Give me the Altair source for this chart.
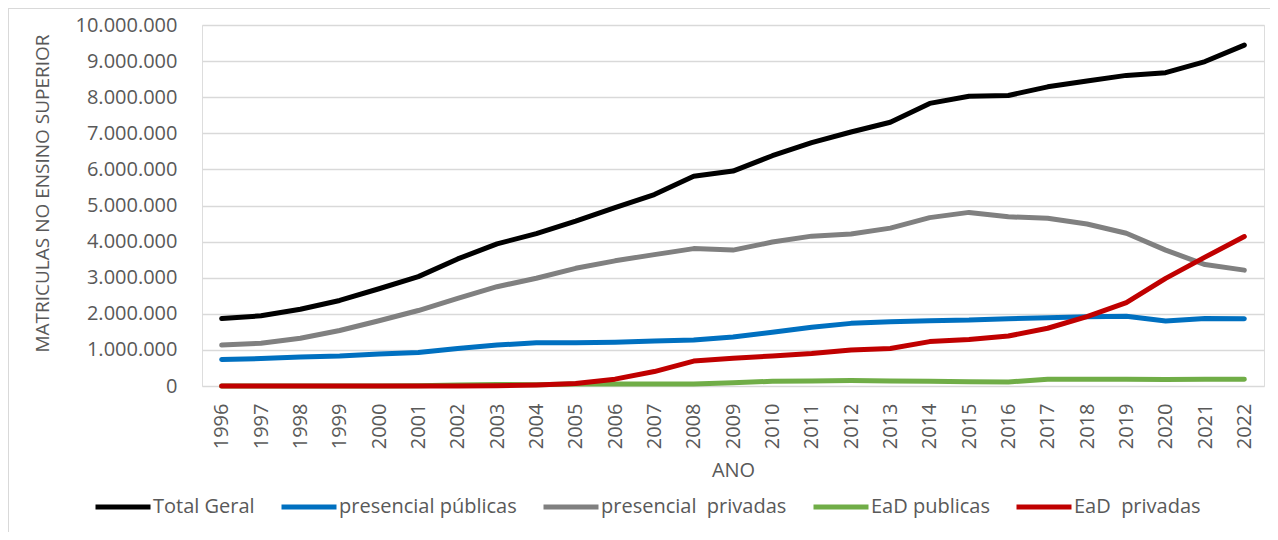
import altair as alt
import pandas as pd

years = list(range(1996, 2023))

total_geral = [1.868, 1.945, 2.126, 2.369, 2.694, 3.030, 3.520, 3.936, 4.223, 4.567,
               4.944, 5.302, 5.808, 5.954, 6.379, 6.740, 7.037, 7.306, 7.828, 8.028,
               8.048, 8.287, 8.451, 8.604, 8.680, 8.987, 9.444]
presencial_publicas = [0.735, 0.759, 0.805, 0.832, 0.887, 0.925, 1.040, 1.135, 1.195, 1.200,
                       1.215, 1.245, 1.273, 1.360, 1.490, 1.625, 1.735, 1.780, 1.810, 1.825,
                       1.865, 1.890, 1.915, 1.935, 1.800, 1.870, 1.865]
presencial_privadas = [1.133, 1.186, 1.321, 1.537, 1.807, 2.091, 2.428, 2.750, 2.985, 3.260,
                       3.467, 3.640, 3.806, 3.764, 3.987, 4.151, 4.208, 4.374, 4.664, 4.809,
                       4.686, 4.649, 4.489, 4.231, 3.765, 3.364, 3.210]
ead_publicas = [0.0, 0.0, 0.0, 0.0, 0.002, 0.005, 0.030, 0.040, 0.036, 0.055,
                0.055, 0.055, 0.055, 0.090, 0.130, 0.140, 0.150, 0.140, 0.130, 0.120,
                0.110, 0.185, 0.190, 0.185, 0.180, 0.185, 0.190]
ead_privadas = [0.0, 0.0, 0.0, 0.0, 0.0, 0.0, 0.0, 0.005, 0.030, 0.070,
                0.190, 0.400, 0.690, 0.770, 0.830, 0.900, 0.997, 1.040, 1.230, 1.290,
                1.385, 1.600, 1.920, 2.310, 2.980, 3.570, 4.140]

series_names = ["Total Geral", "presencial públicas", "presencial\u00a0 privadas",
                "EaD publicas", "EaD\u00a0 privadas"]
series_values = [total_geral, presencial_publicas, presencial_privadas,
                 ead_publicas, ead_privadas]
series_colors = ["#000000", "#0070C0", "#808080", "#70AD47", "#C00000"]

rows = []
for si, (name, vals) in enumerate(zip(series_names, series_values)):
    for y, v in zip(years, vals):
        rows.append({"ano": str(y), "serie": name, "ordem": si, "valor": v * 1_000_000})
df = pd.DataFrame(rows)

FONT = "Open Sans"
TXT = "#595959"
GRID = "#d9d9d9"

W, H = 1062, 361

lines = alt.Chart(df).mark_line(strokeWidth=5, strokeCap="round", strokeJoin="round").encode(
    x=alt.X("ano:O", sort=[str(y) for y in years],
            scale=alt.Scale(type="point", padding=0.5),
            axis=alt.Axis(title="ANO", labelAngle=-90, labelAlign="right", labelBaseline="middle",
                          labelPadding=17, ticks=False, domain=False, grid=False,
                          labelFont=FONT, labelFontSize=20, labelColor=TXT,
                          titleFont=FONT, titleFontSize=20, titleColor=TXT, titleFontWeight="normal",
                          titleX=W / 2, titleY=84, titleBaseline="middle", titleAlign="center")),
    y=alt.Y("valor:Q", scale=alt.Scale(domain=[0, 10_000_000], nice=False),
            axis=alt.Axis(title="MATRICULAS NO ENSINO SUPERIOR",
                          values=[i * 1_000_000 for i in range(11)],
                          labelExpr="replace(format(datum.value, ','), regexp(',', 'g'), '.')",
                          labelPadding=25, ticks=False, domain=False,
                          grid=True, gridColor=GRID, gridWidth=1.5,
                          labelFont=FONT, labelFontSize=20, labelColor=TXT,
                          titleFont=FONT, titleFontSize=19, titleColor=TXT, titleFontWeight="normal",
                          titleAngle=-90, titleX=-160, titleY=168, titleBaseline="middle",
                          titleAlign="center")),
    color=alt.Color("serie:N", sort=series_names,
                    scale=alt.Scale(domain=series_names, range=series_colors),
                    legend=alt.Legend(title=None, orient="none", direction="horizontal",
                                      legendX=-109, legendY=452,
                                      symbolType="stroke", symbolSize=3025, symbolStrokeWidth=5,
                                      labelFont=FONT, labelFontSize=20, labelColor=TXT,
                                      labelLimit=0, labelOffset=0, columnPadding=16, columns=5)),
    order=alt.Order("ordem:Q"),
    detail="serie:N",
)

frame_top = alt.Chart(df).mark_rule(color=GRID, strokeWidth=1.5).encode(
    x=alt.value(-194), x2=alt.value(W + 6), y=alt.value(-17)
)
frame_left = alt.Chart(df).mark_rule(color=GRID, strokeWidth=1.5).encode(
    x=alt.value(-194), y=alt.value(-17), y2=alt.value(H + 146)
)

chart = alt.layer(frame_top, frame_left, lines).properties(
    width=W, height=H,
    autosize=alt.AutoSizeParams(type="none"),
    padding={"left": 194, "top": 17, "right": 6, "bottom": 146},
).configure_view(stroke=None).configure(background="white")

chart.save("out.html", embed_options={"renderer": "svg", "actions": False})
